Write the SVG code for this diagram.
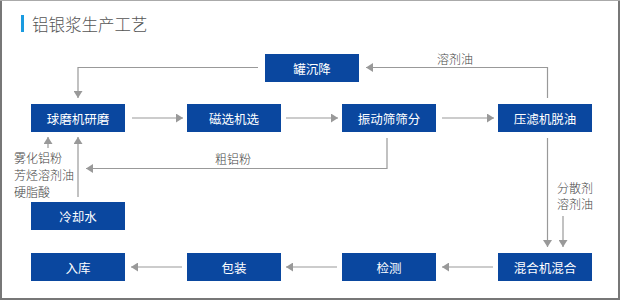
<svg xmlns="http://www.w3.org/2000/svg" width="620" height="300" viewBox="0 0 620 300">
<style>
.box{fill:#0A479F}
.bt{fill:#ffffff;font-family:"Noto Sans CJK SC","Noto Sans",sans-serif;font-size:12.5px;text-anchor:middle;dominant-baseline:central}
.lbl{fill:#444;font-family:"Noto Sans CJK SC","Noto Sans",sans-serif;font-size:12px;font-weight:300}
.ln{fill:none;stroke:#999;stroke-width:1.2}
</style>
<defs>
<marker id="ah" markerWidth="8" markerHeight="9" refX="7" refY="4.5" orient="auto" markerUnits="userSpaceOnUse">
<path d="M0,0 L7,4.5 L0,9 Z" fill="#999"/>
</marker>
</defs>
<rect x="0" y="0" width="620" height="300" fill="#ffffff"/>
<path d="M1,0 V299 H619 V0" fill="none" stroke="#777" stroke-width="2"/>
<line x1="0" y1="0.5" x2="620" y2="0.5" stroke="#aaa" stroke-width="1"/>
<rect x="21" y="15" width="3" height="17" fill="#1A9BE0"/>
<text x="32" y="31" style="font-family:'Noto Sans CJK SC','Noto Sans',sans-serif;font-size:16.5px;font-weight:300;fill:#555">铝银浆生产工艺</text>

<g id="connectors">
<path class="ln" d="M258,67.5 H78 V98" marker-end="url(#ah)"/>
<path class="ln" d="M547.5,98 V67.5 H366" marker-end="url(#ah)"/>
<path class="ln" d="M132,118 H183" marker-end="url(#ah)"/>
<path class="ln" d="M286,118 H338" marker-end="url(#ah)"/>
<path class="ln" d="M442,118 H494" marker-end="url(#ah)"/>
<path class="ln" d="M387,138 V168.5 H86" marker-end="url(#ah)"/>
<path class="ln" d="M78,197 V137" marker-end="url(#ah)"/>
<path class="ln" d="M48,148 V137" marker-end="url(#ah)"/>
<path class="ln" d="M547.5,138 V247" marker-end="url(#ah)"/>
<path class="ln" d="M563,216 V247" marker-end="url(#ah)"/>
<path class="ln" d="M493,267 H442" marker-end="url(#ah)"/>
<path class="ln" d="M337,267 H286" marker-end="url(#ah)"/>
<path class="ln" d="M182,267 H131" marker-end="url(#ah)"/>
<text class="lbl" x="437" y="64">溶剂油</text>
<text class="lbl" x="215" y="164">粗铝粉</text>
<text class="lbl" x="14" y="163">雾化铝粉</text>
<text class="lbl" x="14" y="180">芳烃溶剂油</text>
<text class="lbl" x="14" y="197">硬脂酸</text>
<text class="lbl" x="557" y="193">分散剂</text>
<text class="lbl" x="557" y="209">溶剂油</text>
</g>

<g id="n-guan"><rect class="box" x="265" y="54" width="94" height="28"/><text class="bt" x="312" y="68">罐沉降</text></g>
<g id="n-qiumo"><rect class="box" x="31" y="104" width="94" height="28"/><text class="bt" x="78" y="118">球磨机研磨</text></g>
<g id="n-cixuan"><rect class="box" x="187" y="104" width="94" height="28"/><text class="bt" x="234" y="118">磁选机选</text></g>
<g id="n-zhendong"><rect class="box" x="342" y="104" width="94" height="28"/><text class="bt" x="389" y="118">振动筛筛分</text></g>
<g id="n-yalv"><rect class="box" x="498" y="104" width="94" height="28"/><text class="bt" x="545" y="118">压滤机脱油</text></g>
<g id="n-lengque"><rect class="box" x="31" y="202" width="94" height="28"/><text class="bt" x="78" y="216">冷却水</text></g>
<g id="n-ruku"><rect class="box" x="31" y="253" width="94" height="28"/><text class="bt" x="78" y="267">入库</text></g>
<g id="n-baozhuang"><rect class="box" x="187" y="253" width="94" height="28"/><text class="bt" x="234" y="267">包装</text></g>
<g id="n-jiance"><rect class="box" x="342" y="253" width="94" height="28"/><text class="bt" x="389" y="267">检测</text></g>
<g id="n-hunhe"><rect class="box" x="498" y="253" width="94" height="28"/><text class="bt" x="545" y="267">混合机混合</text></g>
</svg>
